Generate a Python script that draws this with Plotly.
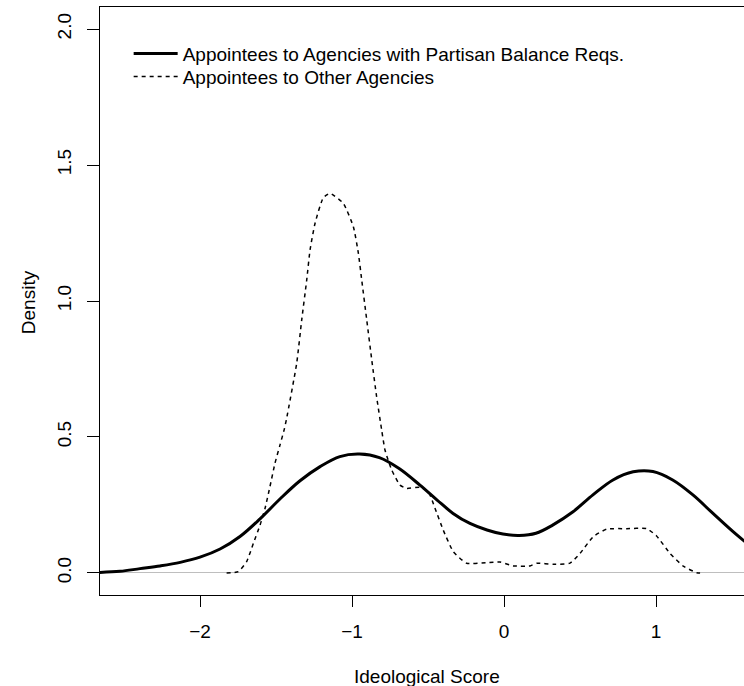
import plotly.graph_objects as go

# Appointees to Agencies with Partisan Balance Reqs. (solid)
pb_x = [-2.66, -2.526, -2.395, -2.263, -2.13, -2.0, -1.868, -1.737, -1.605, -1.474, -1.342,
        -1.21, -1.08, -0.95, -0.82, -0.69, -0.553, -0.44, -0.335, -0.224, -0.112, -0.007,
        0.1, 0.21, 0.32, 0.454, 0.585, 0.717, 0.85, 0.98, 1.11, 1.243, 1.375, 1.507, 1.64]
pb_y = [0.002, 0.006, 0.016, 0.026, 0.039, 0.058, 0.088, 0.134, 0.199, 0.272, 0.339,
        0.391, 0.428, 0.437, 0.424, 0.384, 0.323, 0.268, 0.219, 0.182, 0.158, 0.143,
        0.138, 0.146, 0.176, 0.225, 0.287, 0.342, 0.372, 0.373, 0.342, 0.287, 0.219, 0.152, 0.09]

# Appointees to Other Agencies (dashed)
oa_x = [-1.825, -1.748, -1.693, -1.649, -1.605, -1.572, -1.54, -1.507, -1.474, -1.445,
        -1.43, -1.364, -1.331, -1.298, -1.276, -1.243, -1.189, -1.15, -1.134, -1.057, -0.991,
        -0.958, -0.936, -0.903, -0.87, -0.838, -0.805, -0.783, -0.739, -0.684, -0.64, -0.553,
        -0.498, -0.454, -0.4, -0.333, -0.246, -0.114, -0.026, 0.061, 0.171, 0.215, 0.324,
        0.434, 0.5, 0.588, 0.675, 0.807, 0.939, 1.004, 1.092, 1.18, 1.268, 1.29]
oa_y = [0.0, 0.005, 0.042, 0.109, 0.176, 0.238, 0.317, 0.403, 0.47, 0.53,
        0.569, 0.771, 0.93, 1.077, 1.188, 1.286, 1.38, 1.395, 1.393, 1.359, 1.273,
        1.175, 1.077, 0.93, 0.783, 0.648, 0.526, 0.452, 0.379, 0.323, 0.311, 0.315,
        0.299, 0.238, 0.158, 0.078, 0.036, 0.038, 0.04, 0.026, 0.026, 0.036, 0.032,
        0.036, 0.072, 0.134, 0.161, 0.163, 0.163, 0.136, 0.072, 0.025, 0.001, 0.0]

x_ticks = [-2, -1, 0, 1]
x_tick_text = ["\u22122", "\u22121", "0", "1"]
y_ticks = [0.0, 0.5, 1.0, 1.5, 2.0]
y_tick_text = ["0.0", "0.5", "1.0", "1.5", "2.0"]

FONT = "Liberation Sans, Arial, Helvetica, sans-serif"
FS = 19

fig = go.Figure()
fig.add_trace(go.Scatter(x=pb_x, y=pb_y, mode="lines",
                         line=dict(color="black", width=3, shape="spline", smoothing=1.0),
                         name="Appointees to Agencies with Partisan Balance Reqs.", legend="legend"))
fig.add_trace(go.Scatter(x=oa_x, y=oa_y, mode="lines",
                         line=dict(color="black", width=1.5, dash="4px,4px", shape="spline", smoothing=0.5),
                         name="Appointees to Other Agencies", legend="legend2"))

leg_common = dict(xanchor="left", yanchor="top", bgcolor="rgba(0,0,0,0)",
                  borderwidth=0, font=dict(size=FS), itemwidth=44)

fig.update_layout(
    width=744, height=686,
    margin=dict(l=100, r=0, t=7, b=91),
    paper_bgcolor="white", plot_bgcolor="white",
    font=dict(family=FONT, size=FS, color="black"),
    showlegend=True,
    legend=dict(x=0.0445, y=0.9529, **leg_common),
    legend2=dict(x=0.0445, y=0.9138, **leg_common),
    xaxis=dict(range=[-2.658, 1.579], tickvals=x_ticks, ticktext=x_tick_text,
               showgrid=False, zeroline=False, showline=True, linecolor="black", linewidth=1,
               mirror=True, ticks="outside", ticklen=11, tickcolor="black", tickwidth=1,
               ticklabelstandoff=8),
    yaxis=dict(range=[-0.081, 2.081], tickvals=y_ticks, ticktext=y_tick_text, tickangle=-90,
               showgrid=False, zeroline=True, zerolinecolor="#bebebe", zerolinewidth=1,
               showline=True, linecolor="black", linewidth=1, mirror=False,
               ticks="outside", ticklen=12, tickcolor="black", tickwidth=1, ticklabelstandoff=8),
    annotations=[
        dict(text="Ideological Score", xref="paper", yref="paper", x=0.508, y=-0.1378,
             xanchor="center", yanchor="middle", showarrow=False, font=dict(size=FS)),
        dict(text="Density", xref="paper", yref="paper", x=-0.1118, y=0.498, textangle=-90,
             xanchor="center", yanchor="middle", showarrow=False, font=dict(size=FS)),
    ],
)

fig.write_html("out.html", config={"displayModeBar": False},
               post_script="document.body.style.margin='0px';document.body.style.overflow='hidden';")
